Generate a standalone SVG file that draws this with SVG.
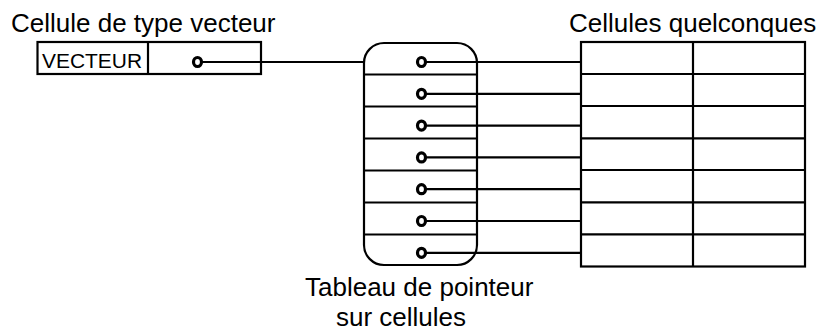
<svg xmlns="http://www.w3.org/2000/svg" width="826" height="330" viewBox="0 0 826 330">
  <style>
    .box { fill: #fff; stroke: #000; stroke-width: 2.2; }
    .ln { stroke: #000; stroke-width: 2.2; fill: none; }
    .ptr { fill: #fff; stroke: #000; stroke-width: 3.2; }
    .lbl { font-family: "Liberation Sans", Arial, Helvetica, sans-serif; font-size: 26px; fill: #000; }
    .cell { font-family: "Liberation Sans", Arial, Helvetica, sans-serif; font-size: 19.5px; fill: #000; }
  </style>

  <!-- connectors: pointers from the vector cell and from each table slot -->
  <g id="connectors">
    <line class="ln" x1="200" y1="62" x2="364" y2="62"/>
    <line class="ln" x1="424" y1="62" x2="581" y2="62"/>
    <line class="ln" x1="424" y1="93.8" x2="581" y2="93.8"/>
    <line class="ln" x1="424" y1="125.6" x2="581" y2="125.6"/>
    <line class="ln" x1="424" y1="157.4" x2="581" y2="157.4"/>
    <line class="ln" x1="424" y1="189.2" x2="581" y2="189.2"/>
    <line class="ln" x1="424" y1="221" x2="581" y2="221"/>
    <line class="ln" x1="424" y1="252.8" x2="581" y2="252.8"/>
  </g>

  <!-- vector cell -->
  <g id="vector-cell">
    <text class="lbl" x="11" y="32">Cellule de type vecteur</text>
    <rect class="box" x="37.5" y="42" width="223.5" height="32"/>
    <line class="ln" x1="148" y1="42" x2="148" y2="74"/>
    <text class="cell" x="42" y="67.5" textLength="100" lengthAdjust="spacingAndGlyphs">VECTEUR</text>
    <line class="ln" x1="201" y1="62" x2="261" y2="62"/>
    <ellipse class="ptr" cx="197.5" cy="62" rx="4" ry="4.5"/>
  </g>

  <!-- pointer table -->
  <g id="pointer-table">
    <rect class="box" x="364" y="43" width="113" height="222" rx="20" ry="20"/>
    <line class="ln" x1="364" y1="74.5" x2="478" y2="74.5"/>
    <line class="ln" x1="364" y1="106.5" x2="478" y2="106.5"/>
    <line class="ln" x1="364" y1="138.5" x2="478" y2="138.5"/>
    <line class="ln" x1="364" y1="170.5" x2="478" y2="170.5"/>
    <line class="ln" x1="364" y1="202.5" x2="478" y2="202.5"/>
    <line class="ln" x1="364" y1="234.5" x2="478" y2="234.5"/>
    <line class="ln" x1="424" y1="62" x2="477" y2="62"/>
    <line class="ln" x1="424" y1="93.8" x2="477" y2="93.8"/>
    <line class="ln" x1="424" y1="125.6" x2="477" y2="125.6"/>
    <line class="ln" x1="424" y1="157.4" x2="477" y2="157.4"/>
    <line class="ln" x1="424" y1="189.2" x2="477" y2="189.2"/>
    <line class="ln" x1="424" y1="221" x2="477" y2="221"/>
    <line class="ln" x1="424" y1="252.8" x2="477" y2="252.8"/>
    <ellipse class="ptr" cx="421.5" cy="62" rx="4" ry="4.5"/>
    <ellipse class="ptr" cx="421.5" cy="93.8" rx="4" ry="4.5"/>
    <ellipse class="ptr" cx="421.5" cy="125.6" rx="4" ry="4.5"/>
    <ellipse class="ptr" cx="421.5" cy="157.4" rx="4" ry="4.5"/>
    <ellipse class="ptr" cx="421.5" cy="189.2" rx="4" ry="4.5"/>
    <ellipse class="ptr" cx="421.5" cy="221" rx="4" ry="4.5"/>
    <ellipse class="ptr" cx="421.5" cy="252.8" rx="4" ry="4.5"/>
    <text class="lbl" x="305" y="296">Tableau de pointeur</text>
    <text class="lbl" x="336" y="325.5">sur cellules</text>
  </g>

  <!-- arbitrary cells -->
  <g id="cells">
    <text class="lbl" x="569" y="31.5">Cellules quelconques</text>
    <rect class="box" x="581" y="42" width="224" height="224.5"/>
    <line class="ln" x1="693" y1="42" x2="693" y2="266.5"/>
    <line class="ln" x1="581" y1="74" x2="805" y2="74"/>
    <line class="ln" x1="581" y1="106" x2="805" y2="106"/>
    <line class="ln" x1="581" y1="138.3" x2="805" y2="138.3"/>
    <line class="ln" x1="581" y1="170" x2="805" y2="170"/>
    <line class="ln" x1="581" y1="202.3" x2="805" y2="202.3"/>
    <line class="ln" x1="581" y1="234.3" x2="805" y2="234.3"/>
  </g>
</svg>
